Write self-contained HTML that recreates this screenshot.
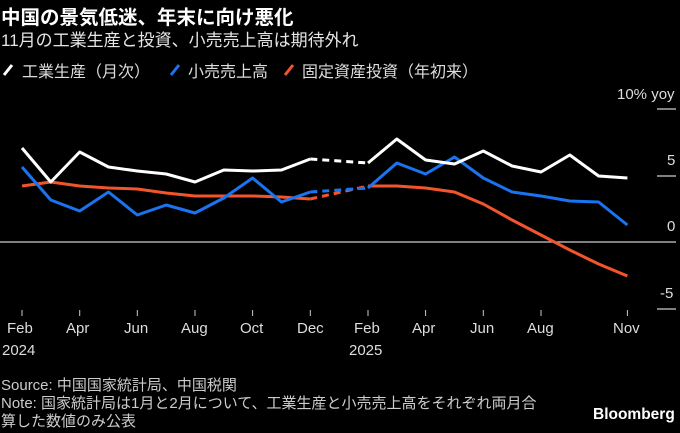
<!DOCTYPE html>
<html><head><meta charset="utf-8"><style>
html,body{margin:0;padding:0;background:#000;}
body{width:680px;height:433px;overflow:hidden;position:relative;font-family:"Liberation Sans","Noto Sans CJK JP",sans-serif;color:#fff;}
.t{position:absolute;white-space:nowrap;}
</style></head><body>
<div class="t" style="left:1px;top:1px;font-size:19.5px;font-weight:bold;">中国の景気低迷、年末に向け悪化</div>
<div class="t" style="left:1px;top:26px;font-size:17px;color:#e6e6e6;">11月の工業生産と投資、小売売上高は期待外れ</div>
<div class="t" style="left:22px;top:58px;font-size:16px;color:#ddd;">工業生産（月次）</div>
<div class="t" style="left:188px;top:58px;font-size:16px;color:#ddd;">小売売上高</div>
<div class="t" style="left:302px;top:58px;font-size:16px;color:#ddd;">固定資産投資（年初来）</div>
<svg width="680" height="433" style="position:absolute;left:0;top:0">
<line x1="4" y1="75" x2="12" y2="65" stroke="#fff" stroke-width="3"/>
<line x1="171" y1="75" x2="179" y2="65" stroke="#1a74f0" stroke-width="3"/>
<line x1="285" y1="75" x2="293" y2="65" stroke="#f2552c" stroke-width="3"/>
<g stroke="#ccc" stroke-width="1.3">
<line x1="657" y1="109" x2="676" y2="109"/>
<line x1="657" y1="176" x2="676" y2="176"/>
<line x1="657" y1="309" x2="676" y2="309"/>
<line x1="0" y1="242" x2="676" y2="242"/>
</g>
<g stroke="#ccc" stroke-width="1">
<line x1="22" y1="310" x2="22" y2="316"/><line x1="79.7" y1="310" x2="79.7" y2="316"/><line x1="137.3" y1="310" x2="137.3" y2="316"/><line x1="195" y1="310" x2="195" y2="316"/><line x1="252.6" y1="310" x2="252.6" y2="316"/><line x1="310.3" y1="310" x2="310.3" y2="316"/><line x1="368" y1="310" x2="368" y2="316"/><line x1="425.6" y1="310" x2="425.6" y2="316"/><line x1="483.3" y1="310" x2="483.3" y2="316"/><line x1="541" y1="310" x2="541" y2="316"/><line x1="627.4" y1="310" x2="627.4" y2="316"/>
</g>
<g fill="none" stroke-width="3" stroke-linejoin="round">
<polyline stroke="#f2552c" points="22,186 50.8,182 79.7,186 108.5,188 137.3,189 166.2,193 195,196 223.8,196 252.6,196 281.5,197 310.3,199"/>
<polyline stroke="#f2552c" stroke-dasharray="7,5" points="310.3,199 368,186"/>
<polyline stroke="#f2552c" points="368,186 396.8,186 425.6,188 454.5,192 483.3,204 512.1,220 541,235 569.8,250 598.6,264 627.4,276"/>
<polyline stroke="#1a74f0" points="22,167 50.8,200 79.7,211 108.5,192 137.3,215 166.2,205 195,213 223.8,198 252.6,178 281.5,202 310.3,192"/>
<polyline stroke="#1a74f0" stroke-dasharray="7,5" points="310.3,192 368,188"/>
<polyline stroke="#1a74f0" points="368,188 396.8,163 425.6,174 454.5,157 483.3,178 512.1,192 541,196 569.8,201 598.6,202 627.4,225"/>
<polyline stroke="#fff" points="22,148 50.8,182 79.7,152 108.5,167 137.3,171 166.2,174 195,182 223.8,170 252.6,171 281.5,170 310.3,159"/>
<polyline stroke="#fff" stroke-dasharray="7,5" points="310.3,159 368,163"/>
<polyline stroke="#fff" points="368,163 396.8,139 425.6,160 454.5,164 483.3,151 512.1,166 541,172 569.8,155 598.6,176 627.4,178"/>
</g>
</svg>
<div class="t" style="left:617px;top:86px;font-size:15px;color:#ddd;">10% yoy</div>
<div class="t" style="left:667px;top:152px;font-size:15px;color:#ddd;">5</div>
<div class="t" style="left:667px;top:218px;font-size:15px;color:#ddd;">0</div>
<div class="t" style="left:660px;top:285px;font-size:15px;color:#ddd;">-5</div>
<div style="position:absolute;left:0;top:320px;width:680px;font-size:15px;color:#ddd;">
<span class="t" style="left:7px;">Feb</span><span class="t" style="left:66px;">Apr</span><span class="t" style="left:124px;">Jun</span><span class="t" style="left:181px;">Aug</span><span class="t" style="left:240px;">Oct</span><span class="t" style="left:297px;">Dec</span><span class="t" style="left:354px;">Feb</span><span class="t" style="left:412px;">Apr</span><span class="t" style="left:470px;">Jun</span><span class="t" style="left:527px;">Aug</span><span class="t" style="left:613px;">Nov</span>
<span class="t" style="left:2px;top:22px;">2024</span><span class="t" style="left:349px;top:22px;">2025</span>
</div>
<div class="t" style="left:1px;top:377px;font-size:15px;color:#ccc;line-height:18px;">Source: 中国国家統計局、中国税関<br>Note: 国家統計局は1月と2月について、工業生産と小売売上高をそれぞれ両月合<br>算した数値のみ公表</div>
<div class="t" style="left:593px;top:406px;font-size:15.5px;font-weight:bold;color:#fff;">Bloomberg</div>
</body></html>
